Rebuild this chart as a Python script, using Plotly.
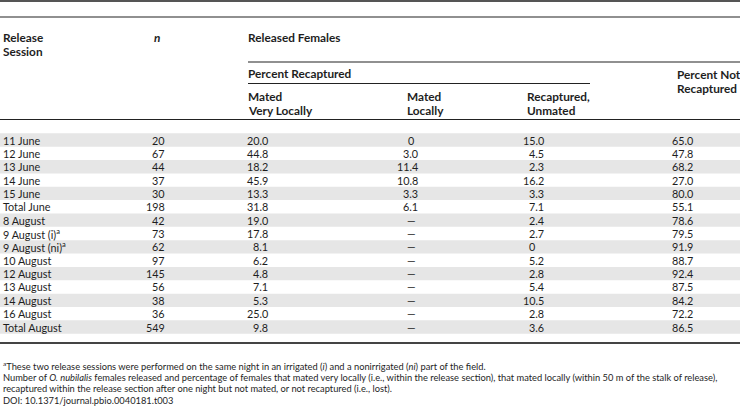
import plotly.graph_objects as go

# table data
sessions = ["11 June", "12 June", "13 June", "14 June", "15 June", "Total June",
            "8 August", "9 August (i)<sup>a</sup>", "9 August (ni)<sup>a</sup>",
            "10 August", "12 August", "13 August", "14 August", "16 August", "Total August"]
n_released = [20, 67, 44, 37, 30, 198, 42, 73, 62, 97, 145, 56, 38, 36, 549]
mated_very_locally = [20.0, 44.8, 18.2, 45.9, 13.3, 31.8, 19.0, 17.8, 8.1, 6.2, 4.8, 7.1, 5.3, 25.0, 9.8]
mated_locally = [0, 3.0, 11.4, 10.8, 3.3, 6.1, None, None, None, None, None, None, None, None, None]
recaptured_unmated = [15.0, 4.5, 2.3, 16.2, 3.3, 7.1, 2.4, 2.7, 0, 5.2, 2.8, 5.4, 10.5, 2.8, 3.6]
not_recaptured = [65.0, 47.8, 68.2, 27.0, 80.0, 55.1, 78.6, 79.5, 91.9, 88.7, 92.4, 87.5, 84.2, 72.2, 86.5]

footnotes = [
    "<sup>a</sup>These two release sessions were performed on the same night in an irrigated (<i>i</i>) "
    "and a nonirrigated (<i>ni</i>) part of the field.",
    "Number of <i>O. nubilalis</i> females released and percentage of females that mated very locally "
    "(i.e., within the release section), that mated locally (within 50 m of the stalk of release),",
    "recaptured within the release section after one night but not mated, or not recaptured (i.e., lost).",
    "DOI: 10.1371/journal.pbio.0040181.t003",
]

FONT = "Lato, 'Open Sans', sans-serif"
TXT = "#1e1e1e"
W, H = 740, 406
ROW0, ROWH = 140, 13.36


def fmt(v):
    if v is None:
        return "—"
    if v == 0:
        return "0"
    return f"{v:.1f}"


fig = go.Figure()
fig.add_trace(go.Scatter(x=[0, W], y=[0, H], mode="markers", marker=dict(opacity=0),
                         hoverinfo="skip", showlegend=False))

shapes = []
annotations = []

# zebra stripes
for i in range(len(sessions)):
    yc = ROW0 + i * ROWH
    if i % 2 == 0:
        shapes.append(dict(type="rect", x0=0, x1=W, y0=yc - ROWH / 2, y1=yc + ROWH / 2,
                           fillcolor="#e6e6e6", line_width=0, layer="below"))

# rules
rules = [(0, W, 1, 2, "#555"), (0, W, 17, 1.2, "#222"), (248, W, 62, 1.2, "#222"),
         (248, 590, 83.5, 1.2, "#222"), (0, W, 119.5, 1.2, "#222"), (0, W, 343, 2, "#444")]
for x0, x1, y, w, c in rules:
    shapes.append(dict(type="line", x0=x0, x1=x1, y0=y, y1=y, line=dict(color=c, width=w)))


def txt(x, y, s, anchor="left", size=10.8, bold=False):
    if bold:
        s = f"<b>{s}</b>"
    annotations.append(dict(x=x, y=y, text=s, showarrow=False, xanchor=anchor, yanchor="middle",
                            font=dict(family=FONT, size=size, color=TXT), xref="x", yref="y"))


# headers
HS = 11.8
txt(1, 37, "Release", bold=True, size=HS)
txt(1, 51, "Session", bold=True, size=HS)
txt(152, 37, "<i>n</i>", bold=True, size=HS)
txt(246, 37, "Released Females", bold=True, size=HS)
txt(246, 73, "Percent Recaptured", bold=True, size=HS)
txt(246, 96, "Mated", bold=True, size=HS)
txt(246, 110, "Very Locally", bold=True, size=HS)
txt(405, 96, "Mated", bold=True, size=HS)
txt(405, 110, "Locally", bold=True, size=HS)
txt(525, 96, "Recaptured,", bold=True, size=HS)
txt(525, 110, "Unmated", bold=True, size=HS)
txt(675, 74, "Percent Not", bold=True, size=HS)
txt(675, 88, "Recaptured", bold=True, size=HS)

# body: (values, right edge, centre)
cols = [(mated_very_locally, 270, 261), (mated_locally, 420, 411),
        (recaptured_unmated, 546, 532), (not_recaptured, 695, 685)]
for i, s in enumerate(sessions):
    yc = ROW0 + i * ROWH
    txt(1, yc, s)
    txt(167, yc, str(n_released[i]), anchor="right")
    for vals, xr, xc in cols:
        t = fmt(vals[i])
        if "." in t:
            txt(xr, yc, t, anchor="right")
        else:
            txt(xc, yc, t, anchor="center")

for k, line in enumerate(footnotes):
    txt(1, 365.5 + k * 11.5, line, size=9.3)

fig.update_layout(
    width=W, height=H, margin=dict(l=0, r=0, t=0, b=0),
    paper_bgcolor="white", plot_bgcolor="white",
    xaxis=dict(range=[0, W], visible=False, fixedrange=True),
    yaxis=dict(range=[H, 0], visible=False, fixedrange=True),
    shapes=shapes, annotations=annotations, showlegend=False,
)

fig.write_html("out.html", config={"displayModeBar": False},
               post_script="document.body.style.margin='0';")
